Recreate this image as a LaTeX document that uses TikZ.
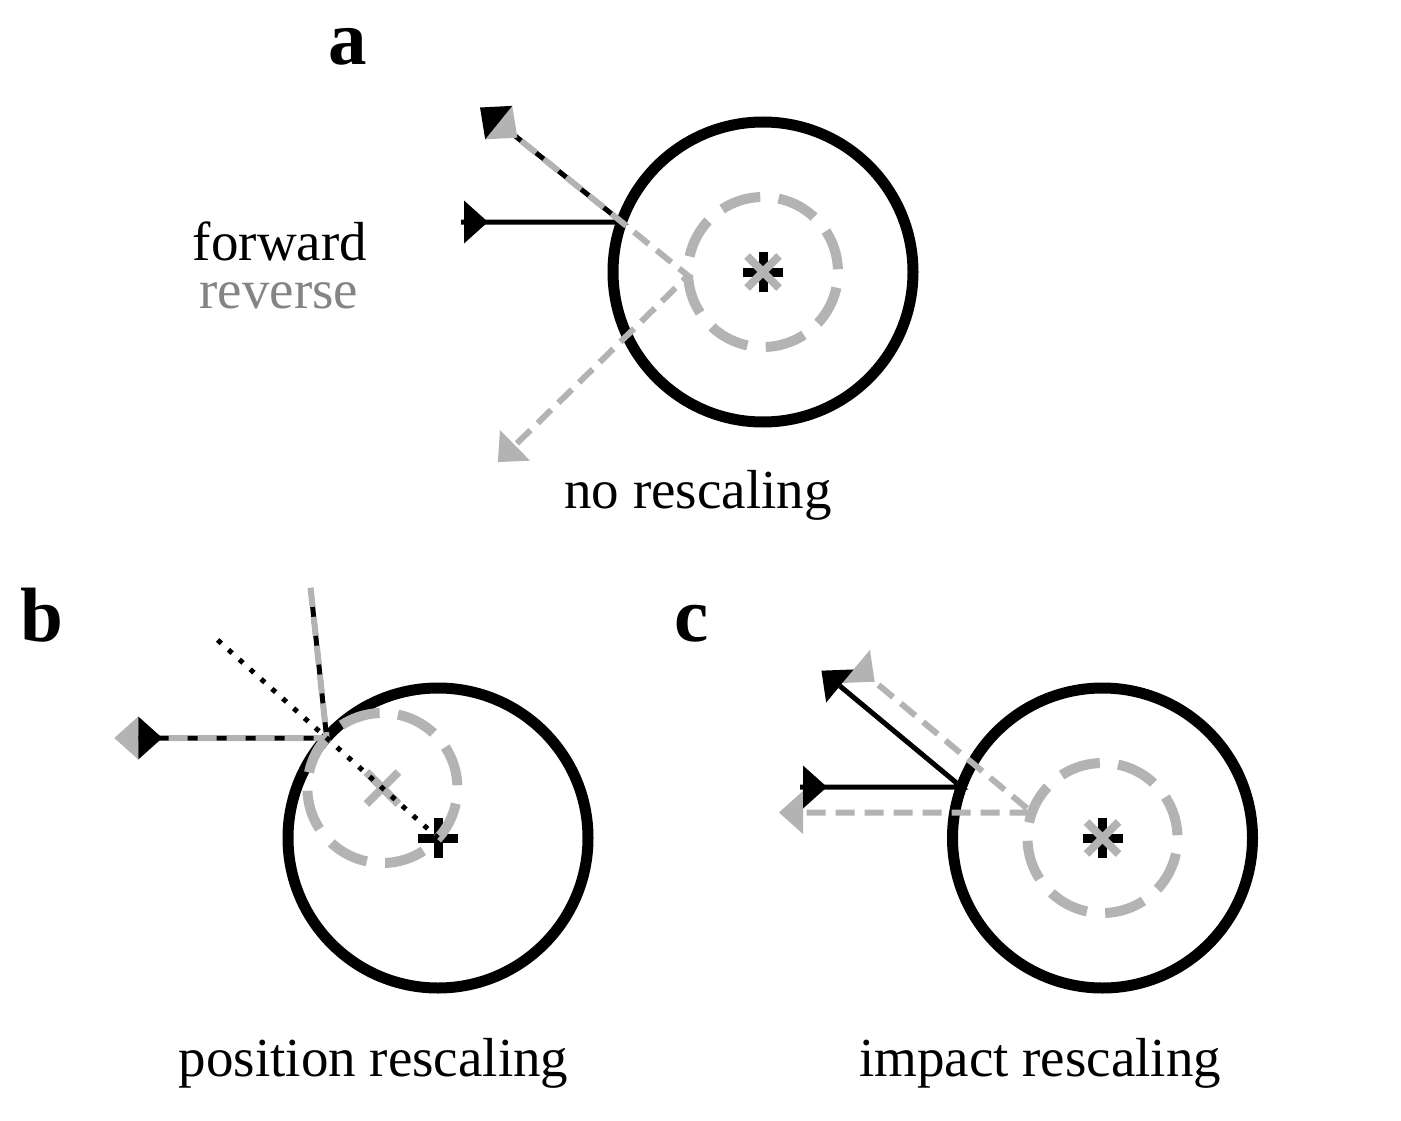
\documentclass[tikz,border=0pt]{standalone}
\usepackage{fontspec}
\setmainfont{Liberation Serif}
\usetikzlibrary{calc}
\definecolor{lgray}{RGB}{179,179,179}
\definecolor{tgray}{RGB}{132,132,132}
\newcommand{\tritoward}[3]{\fill[#3] ($(#1)!21.5pt!90:(#2)$) -- ($(#1)!24pt!(#2)$) -- ($(#1)!21.5pt!-90:(#2)$) -- cycle;}
\newcommand{\triaway}[3]{\fill[#3] ($(#1)!21.5pt!90:(#2)$) -- ($(#1)!-24pt!(#2)$) -- ($(#1)!21.5pt!-90:(#2)$) -- cycle;}
\newcommand{\plusat}[1]{\draw[plusmark] ([xshift=-20pt]#1) -- ([xshift=20pt]#1) ([yshift=-20pt]#1) -- ([yshift=20pt]#1);}
\newcommand{\crossat}[1]{\draw[crossmark] ([shift={(-16,-16)}]#1) -- ([shift={(16,16)}]#1) ([shift={(-16,16)}]#1) -- ([shift={(16,-16)}]#1);}
\tikzset{
  bigcirc/.style={draw=black, line width=11pt},
  smallcirc/.style={draw=lgray, line width=10pt, dash pattern=on 40.5pt off 18.4pt, dash phase=43.2pt},
  fwdline/.style={draw=black, line width=5pt},
  revline/.style={draw=lgray, line width=6pt, dash pattern=on 19pt off 10pt},
  dotline/.style={draw=black, line width=5pt, dash pattern=on 5pt off 9.6pt},
  plusmark/.style={draw=black, line width=9pt},
  crossmark/.style={draw=lgray, line width=8pt},
  lbl/.style={inner sep=0pt, anchor=base, font=\fontsize{55}{60}\selectfont},
  panel/.style={inner sep=0pt, anchor=base, font=\fontsize{77}{80}\selectfont\bfseries},
}
\begin{document}
\begin{tikzpicture}[x=1pt,y=-1pt]
\path[use as bounding box, fill=white] (0,0) rectangle (1401,1121);

% ---------- panel a ----------
\coordinate (Ca) at (763,272);
\coordinate (Ha) at (621.6,222);
\coordinate (Sa0) at (461,222);
\coordinate (Sa) at (464,222);
\coordinate (Ea) at (498.7,122.6);
\coordinate (Qa) at (688,275.7);
\coordinate (Ra) at (515,445.3);
\draw[bigcirc] (Ca) circle[radius=150];
\draw[fwdline] (Sa0) -- (Ha) -- (Ea);
\plusat{Ca}
\crossat{Ca}
\draw[smallcirc] (Ca) circle[radius=75];
\draw[revline] (Ea) -- (Qa) -- (Ra);
\tritoward{Ea}{Ha}{lgray}
\triaway{Ra}{Qa}{lgray}
\tritoward{Sa}{Ha}{black}
\triaway{Ea}{Ha}{black}
\node[panel] (la) at (348,65) {a};
\node[lbl] (fw) at (280,260) {forward};
\node[lbl, text=tgray] (rv) at (279,308) {reverse};
\node[lbl] (na) at (698,508) {no rescaling};

% ---------- panel b ----------
\coordinate (Cb) at (438,838);
\coordinate (Db) at (382.4,788);
\coordinate (Hb) at (326.7,738);
\coordinate (Lb) at (138.3,738);
\coordinate (Tb) at (310.6,588);
\coordinate (Pb) at (217.6,640);
\draw[bigcirc] (Cb) circle[radius=150];
\draw[fwdline] (Lb) -- (Hb) -- (Tb);
\plusat{Cb}
\crossat{Db}
\draw[smallcirc] (Db) circle[radius=75];
\draw[revline] (Tb) -- (Hb) -- (Lb);
\draw[dotline] (Pb) -- (Cb);
\triaway{Lb}{Hb}{lgray}
\tritoward{Lb}{Hb}{black}
\node[panel] (lb) at (42,641) {b};
\node[lbl] (nb) at (373.5,1076) {position rescaling};

% ---------- panel c ----------
\coordinate (Cc) at (1102.5,838);
\coordinate (Hc) at (961.4,787);
\coordinate (Sc0) at (800,787);
\coordinate (Sc) at (803,787);
\coordinate (Ec) at (839.9,686);
\coordinate (Gc) at (856.2,666.4);
\coordinate (Qc) at (1032,812.5);
\coordinate (Rc) at (803,812.5);
\draw[bigcirc] (Cc) circle[radius=150];
\draw[fwdline] (Sc0) -- (Hc) -- (Ec);
\plusat{Cc}
\crossat{Cc}
\draw[smallcirc] (Cc) circle[radius=75];
\draw[revline] (Gc) -- (Qc) -- (Rc);
\tritoward{Gc}{Qc}{lgray}
\triaway{Rc}{Qc}{lgray}
\tritoward{Sc}{Hc}{black}
\triaway{Ec}{Hc}{black}
\node[panel] (lc) at (692,641) {c};
\node[lbl] (nc) at (1040,1076) {impact rescaling};
\end{tikzpicture}
\end{document}
